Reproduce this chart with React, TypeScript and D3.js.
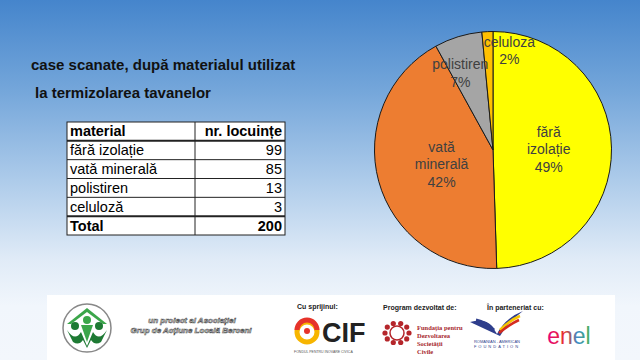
import React from "react";
import * as d3 from "d3";

const materials = ["fără izolație", "vată minerală", "polistiren", "celuloză"];
const counts = [99, 85, 13, 3];
const totalLabel = "Total";
const totalValue = 200;
const pieNames = [["fără", "izolație"], ["vată", "minerală"], ["polistiren"], ["celuloza"]];
const pctLabels = ["49%", "42%", "7%", "2%"];
const sliceColors = ["#FFFF00", "#ED7D31", "#A5A5A5", "#FFC000"];
const titleLines = ["case scanate, după materialul utilizat", "la termizolarea tavanelor"];
const headers = ["material", "nr. locuințe"];

const W = 640, H = 360;
const cx = 493, cy = 150, R = 118.5;
const labelRadiusFactor = [0.47, 0.45, 0.68, 0.84];
const labelDx = [0, 0, -9, 21];

export default function App() {
  const pie = d3.pie<number>().value(d => d).sort(null)(counts);
  const arc = d3.arc<d3.PieArcDatum<number>>().innerRadius(0).outerRadius(R);

  const tX0 = 67, tX1 = 285, tDiv = 195, tY0 = 122, tY1 = 235;
  const rowIdx = d3.range(materials.length + 2);
  const rowScale = d3.scaleBand<number>().domain(rowIdx).range([tY0, tY1]);
  const rows: [string, string, boolean][] = [
    [headers[0], headers[1], true],
    ...materials.map((m, i) => [m, String(counts[i]), false] as [string, string, boolean]),
    [totalLabel, String(totalValue), true],
  ];

  return (
    <svg width={W} height={H} style={{ position: "absolute", left: 0, top: 0 }}>
      <defs>
        <linearGradient id="bg" x1="0" y1="0" x2="0" y2="1">
          <stop offset="0" stopColor="#4585CC" />
          <stop offset="0.25" stopColor="#74A6DA" />
          <stop offset="0.5" stopColor="#ADCBEA" />
          <stop offset="0.72" stopColor="#E0EBF7" />
          <stop offset="0.85" stopColor="#F1F6FC" />
          <stop offset="1" stopColor="#F3F7FC" />
        </linearGradient>
      </defs>
      <rect x={0} y={0} width={W} height={H} fill="url(#bg)" />

      {/* Title */}
      <g fontFamily="Liberation Sans, Arial, sans-serif" fontWeight="bold" fontSize={15} fill="#111">
        <text x={31} y={70}>{titleLines[0]}</text>
        <text x={35} y={98}>{titleLines[1]}</text>
      </g>

      {/* Table */}
      <g fontFamily="Liberation Sans, Arial, sans-serif" fontSize={14.5} fill="#000">
        <rect x={tX0} y={tY0} width={tX1 - tX0} height={tY1 - tY0} fill="#fff" stroke="#222" strokeWidth={1} />
        {rowIdx.slice(1).map(i => {
          const y = rowScale(i)!;
          const thick = i === 1 || i === rowIdx.length - 1;
          return <line key={i} x1={tX0} x2={tX1} y1={y} y2={y} stroke="#222" strokeWidth={thick ? 2 : 1} />;
        })}
        <line x1={tDiv} x2={tDiv} y1={tY0} y2={tY1} stroke="#222" strokeWidth={1} />
        {rows.map((r, i) => {
          const y = rowScale(i)! + rowScale.bandwidth() / 2 + 5;
          return (
            <g key={i} fontWeight={r[2] ? "bold" : "normal"}>
              <text x={tX0 + 3} y={y}>{r[0]}</text>
              <text x={tX1 - 3} y={y} textAnchor="end">{r[1]}</text>
            </g>
          );
        })}
      </g>

      {/* Pie */}
      <g transform={`translate(${cx},${cy})`}>
        {pie.map((p, i) => (
          <path key={i} d={arc(p)!} fill={sliceColors[i]} stroke="#1a1a1a" strokeWidth={1} />
        ))}
        {pie.map((p, i) => {
          const lr = R * labelRadiusFactor[i];
          const la = d3.arc<d3.PieArcDatum<number>>().innerRadius(lr).outerRadius(lr);
          const [x, y] = la.centroid(p);
          const lines = [...pieNames[i], pctLabels[i]];
          const lh = 17.5;
          const y0 = y - ((lines.length - 1) * lh) / 2;
          return (
            <text key={i} x={x + labelDx[i]} textAnchor="middle" fontFamily="Liberation Sans, Arial, sans-serif"
              fontSize={14} fill="#404040">
              {lines.map((l, j) => (
                <tspan key={j} x={x + labelDx[i]} y={y0 + j * lh + 5}>{l}</tspan>
              ))}
            </text>
          );
        })}
      </g>

      {/* Footer */}
      <rect x={47} y={295} width={568} height={65} fill="#fff" />
      {/* GAL logo */}
      <g transform="translate(87,328)">
        <circle r={24} fill="#fff" stroke="#888" strokeWidth={1.5} />
        <path d="M-20,-4 L0,-20 L20,-4 L16,-4 L0,-16 L-16,-4 Z" fill="#3BA64A" />
        <circle cx={-12} cy={-2} r={4} fill="#1E7A34" />
        <circle cx={0} cy={-8} r={4} fill="#3BA64A" />
        <circle cx={12} cy={-2} r={4} fill="#1E7A34" />
        <path d="M-20,2 Q-12,14 -6,4 L0,18 L6,4 Q12,14 20,2 L14,14 Q8,18 4,12 L0,20 L-4,12 Q-8,18 -14,14 Z" fill="#1E7A34" />
        <path d="M-6,-3 L0,14 L6,-3 Z" fill="#3BA64A" />
      </g>
      <g fontFamily="Liberation Sans, Arial, sans-serif" fontStyle="italic" fontWeight="bold" fontSize={8} fill="#fff" stroke="#555" strokeWidth={0.6} textAnchor="middle">
        <text x={192} y={323}>un proiect al Asociației</text>
        <text x={191} y={333}>Grup de Acțiune Locală Berceni</text>
      </g>
      <g fontFamily="Liberation Sans, Arial, sans-serif" fontWeight="bold" fontSize={7} fill="#222">
        <text x={297} y={309}>Cu sprijinul:</text>
        <text x={383} y={310}>Program dezvoltat de:</text>
        <text x={487} y={310}>În parteneriat cu:</text>
      </g>
      {/* CIF */}
      <g transform="translate(307,332)">
        <circle r={10} fill="none" stroke="#F7B500" strokeWidth={5} />
        <path d="M-10,-2 A10,10 0 0 1 10,-2" fill="none" stroke="#E6332A" strokeWidth={5} />
        <circle cy={-1} r={3} fill="#E6332A" />
      </g>
      <text x={322} y={342} fontFamily="Liberation Sans, Arial, sans-serif" fontWeight="bold" fontSize={27} fill="#222">CIF</text>
      <text x={294} y={353} fontFamily="Liberation Sans, Arial, sans-serif" fontSize={3.5} fill="#555">FONDUL PENTRU INOVARE CIVICĂ</text>
      {/* FDSC */}
      <g transform="translate(397,333)" fill="#B5262B">
        {d3.range(10).map(k => {
          const a = (k / 10) * Math.PI * 2;
          return <circle key={k} cx={12 * Math.cos(a)} cy={10 * Math.sin(a)} r={2.6} />;
        })}
        <circle r={7} fill="none" stroke="#B5262B" strokeWidth={1.5} />
      </g>
      <g fontFamily="Liberation Serif, serif" fontWeight="bold" fontSize={6.5} fill="#A7282E">
        <text x={417} y={330}>Fundația pentru</text>
        <text x={417} y={338}>Dezvoltarea</text>
        <text x={417} y={346}>Societății</text>
        <text x={417} y={354}>Civile</text>
      </g>
      {/* Romanian-American Foundation */}
      <g>
        <path d="M470,322 Q485,318 492,326 L497,334 Q505,318 523,311 Q508,322 500,336 Z" fill="#2E3E8C" />
        <path d="M476,320 Q486,322 494,330" stroke="#2E3E8C" strokeWidth={3} fill="none" />
        <path d="M500,330 Q510,320 520,316" stroke="#F7C600" strokeWidth={2.5} fill="none" />
        <path d="M499,333 Q510,324 519,320" stroke="#D52B1E" strokeWidth={2.5} fill="none" />
        <text x={497} y={343} textAnchor="middle" fontFamily="Liberation Sans, Arial, sans-serif" fontSize={4} fill="#2E3E8C">ROMANIAN - AMERICAN</text>
        <text x={497} y={348} textAnchor="middle" fontFamily="Liberation Sans, Arial, sans-serif" fontSize={4} letterSpacing={2} fill="#2E3E8C">FOUNDATION</text>
      </g>
      {/* enel */}
      <defs>
        <linearGradient id="enelG" x1="0" y1="0" x2="1" y2="0">
          <stop offset="0" stopColor="#E6007E" />
          <stop offset="0.4" stopColor="#E6332A" />
          <stop offset="0.7" stopColor="#3C8DCB" />
          <stop offset="1" stopColor="#4CB34A" />
        </linearGradient>
      </defs>
      <text x={569} y={344} textAnchor="middle" fontFamily="Liberation Sans, Arial, sans-serif" fontSize={23} fill="url(#enelG)">enel</text>
    </svg>
  );
}
